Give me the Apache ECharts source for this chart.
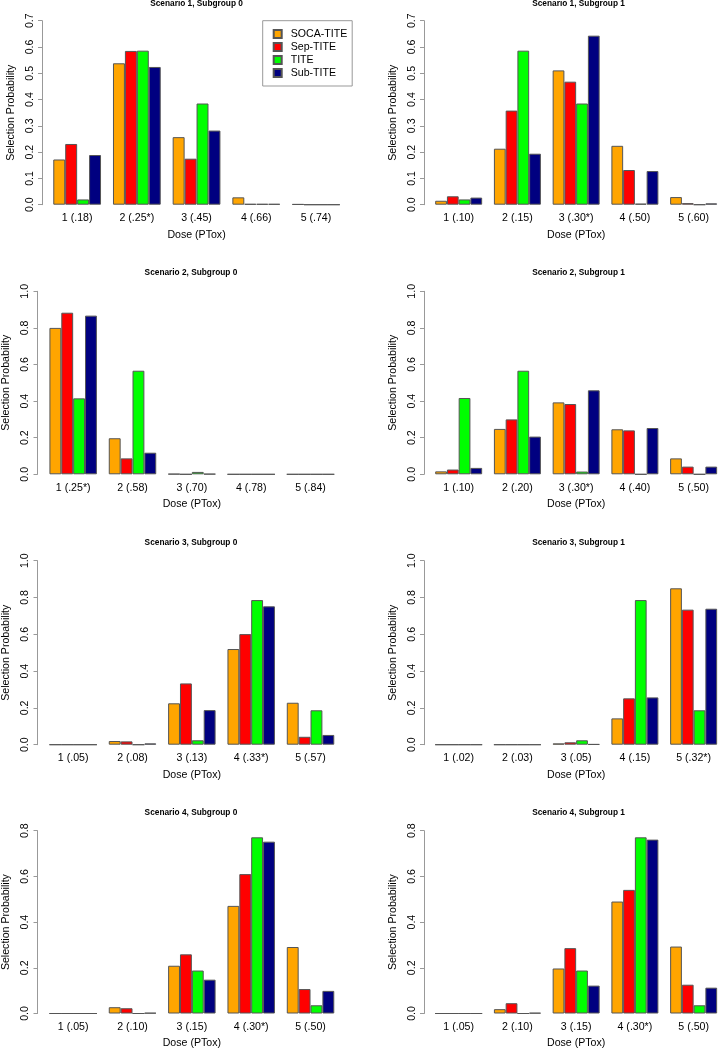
<!DOCTYPE html>
<html><head><meta charset="utf-8">
<script src="https://cdn.jsdelivr.net/npm/echarts@6/dist/echarts.min.js"></script>
<style>html,body{margin:0;padding:0;background:#fff}#c{width:723px;height:1050px}</style>
</head><body><div id="c"></div>
<script>
// ---- data ----
const seriesNames = ['SOCA-TITE', 'Sep-TITE', 'TITE', 'Sub-TITE'];
const panelTitles = ['Scenario 1, Subgroup 0', 'Scenario 1, Subgroup 1',
  'Scenario 2, Subgroup 0', 'Scenario 2, Subgroup 1',
  'Scenario 3, Subgroup 0', 'Scenario 3, Subgroup 1',
  'Scenario 4, Subgroup 0', 'Scenario 4, Subgroup 1'];
const xAxisTitle = 'Dose (PTox)';
const yAxisTitle = 'Selection Probability';

const doses_s1g0 = ['1 (.18)', '2 (.25*)', '3 (.45)', '4 (.66)', '5 (.74)'];
const doses_s1g1 = ['1 (.10)', '2 (.15)', '3 (.30*)', '4 (.50)', '5 (.60)'];
const doses_s2g0 = ['1 (.25*)', '2 (.58)', '3 (.70)', '4 (.78)', '5 (.84)'];
const doses_s2g1 = ['1 (.10)', '2 (.20)', '3 (.30*)', '4 (.40)', '5 (.50)'];
const doses_s3g0 = ['1 (.05)', '2 (.08)', '3 (.13)', '4 (.33*)', '5 (.57)'];
const doses_s3g1 = ['1 (.02)', '2 (.03)', '3 (.05)', '4 (.15)', '5 (.32*)'];
const doses_s4g0 = ['1 (.05)', '2 (.10)', '3 (.15)', '4 (.30*)', '5 (.50)'];
const doses_s4g1 = ['1 (.05)', '2 (.10)', '3 (.15)', '4 (.30*)', '5 (.50)'];

// rows: SOCA-TITE, Sep-TITE, TITE, Sub-TITE
const s1g0 = [[0.172, 0.538, 0.257, 0.028, 0.002],
              [0.231, 0.585, 0.175, 0.003, 0],
              [0.020, 0.586, 0.385, 0.003, 0],
              [0.189, 0.524, 0.282, 0.003, 0]];
const s1g1 = [[0.015, 0.213, 0.511, 0.224, 0.029],
              [0.032, 0.358, 0.468, 0.132, 0.006],
              [0.020, 0.586, 0.385, 0.004, 0],
              [0.027, 0.194, 0.643, 0.128, 0.005]];
const s2g0 = [[0.800, 0.197, 0.002, 0, 0],
              [0.883, 0.087, 0, 0, 0],
              [0.415, 0.566, 0.013, 0, 0],
              [0.867, 0.118, 0.002, 0, 0]];
const s2g1 = [[0.016, 0.248, 0.393, 0.246, 0.087],
              [0.026, 0.300, 0.384, 0.240, 0.042],
              [0.417, 0.566, 0.015, 0, 0],
              [0.035, 0.206, 0.459, 0.253, 0.042]];
const s3g0 = [[0, 0.020, 0.225, 0.520, 0.228],
              [0, 0.018, 0.333, 0.601, 0.043],
              [0, 0, 0.024, 0.786, 0.187],
              [0, 0.007, 0.188, 0.752, 0.053]];
const s3g1 = [[0, 0, 0.007, 0.143, 0.850],
              [0, 0, 0.013, 0.252, 0.734],
              [0, 0, 0.024, 0.786, 0.187],
              [0, 0, 0.003, 0.257, 0.739]];
const s4g0 = [[0, 0.0275, 0.209, 0.471, 0.291],
              [0, 0.023, 0.259, 0.610, 0.107],
              [0, 0, 0.188, 0.771, 0.036],
              [0, 0.003, 0.148, 0.752, 0.099]];
const s4g1 = [[0, 0.019, 0.197, 0.490, 0.293],
              [0, 0.045, 0.286, 0.541, 0.126],
              [0, 0, 0.188, 0.771, 0.036],
              [0, 0.003, 0.122, 0.761, 0.113]];

const yMaxByPanel = [0.7, 0.7, 1.0, 1.0, 1.0, 1.0, 0.8, 0.8];
const yStepByPanel = [0.1, 0.1, 0.2, 0.2, 0.2, 0.2, 0.2, 0.2];

const panelData = [s1g0, s1g1, s2g0, s2g1, s3g0, s3g1, s4g0, s4g1];
const panelDoses = [doses_s1g0, doses_s1g1, doses_s2g0, doses_s2g1, doses_s3g0, doses_s3g1, doses_s4g0, doses_s4g1];

// ---- styles / layout ----
const seriesColors = ['#FFA500', '#FF0000', '#00FF00', '#000080'];
const FONT = 'Liberation Sans, Arial, sans-serif';
const GRID_W = 298.5;
// [gridLeft, gridTop, gridHeight, axisX, titleCenterY]
const layout = [
  [47.3, 20.7, 184, 42, 4.7],
  [429.3, 20.7, 184, 424, 4.7],
  [41.7, 291.3, 183, 35.7, 273.3],
  [429.3, 291.3, 183, 424, 273.3],
  [41.7, 560.7, 184, 35.7, 543.3],
  [429.3, 560.7, 184, 424, 543.3],
  [41.7, 830.7, 184, 35.7, 813],
  [429.3, 830.7, 184, 424, 813]
];

const grids = [], xAxes = [], yAxes = [], titles = [], series = [];
layout.forEach((L, i) => {
  const [gl, gt, gh, ax, ty] = L;
  grids.push({ left: gl, top: gt, width: GRID_W, height: gh });
  titles.push({
    text: panelTitles[i], left: gl + GRID_W / 2, top: ty - 4.5, textAlign: 'center', padding: 0,
    textStyle: { fontFamily: FONT, fontSize: 8.3, fontWeight: 'bold', color: '#000' }
  });
  xAxes.push({
    type: 'category', gridIndex: i, data: panelDoses[i],
    axisLine: { show: false }, axisTick: { show: false }, splitLine: { show: false },
    axisLabel: { color: '#000', fontFamily: FONT, fontSize: 10.6, margin: 8, interval: 0 },
    name: xAxisTitle, nameLocation: 'middle', nameGap: 24.5,
    nameTextStyle: { color: '#000', fontFamily: FONT, fontSize: 10.6 }
  });
  yAxes.push({
    type: 'value', gridIndex: i, min: 0, max: yMaxByPanel[i], interval: yStepByPanel[i],
    offset: gl - ax,
    axisLine: { show: true, lineStyle: { color: '#999', width: 1 } },
    axisTick: { show: true, length: 4, lineStyle: { color: '#999', width: 1 } },
    splitLine: { show: false },
    axisLabel: { color: '#000', fontFamily: FONT, fontSize: 10.6, rotate: 90, margin: 6.5,
      formatter: v => v.toFixed(1) },
    name: yAxisTitle, nameLocation: 'middle', nameGap: 25.5,
    nameTextStyle: { color: '#000', fontFamily: FONT, fontSize: 10.6 }
  });
  panelData[i].forEach((vals, s) => {
    series.push({
      type: 'bar', name: seriesNames[s], xAxisIndex: i, yAxisIndex: i, data: vals,
      barGap: '0%', barCategoryGap: '20%',
      itemStyle: { color: seriesColors[s], borderColor: '#555', borderWidth: 1 },
      emphasis: { disabled: true }
    });
  });
});

const chart = echarts.init(document.getElementById('c'), null, { renderer: 'canvas' });
chart.setOption({
  animation: false,
  backgroundColor: '#fff',
  title: titles,
  legend: {
    data: seriesNames, orient: 'vertical', left: 262.7, top: 20.7,
    padding: [6.8, 5, 6.5, 10], itemGap: 0, itemWidth: 8, itemHeight: 8, icon: 'rect',
    borderColor: '#999', borderWidth: 1,
    textStyle: { color: '#000', fontFamily: FONT, fontSize: 10.6, lineHeight: 13, padding: [0, 0, 0, 4] }
  },
  grid: grids, xAxis: xAxes, yAxis: yAxes, series: series
});
</script></body></html>
